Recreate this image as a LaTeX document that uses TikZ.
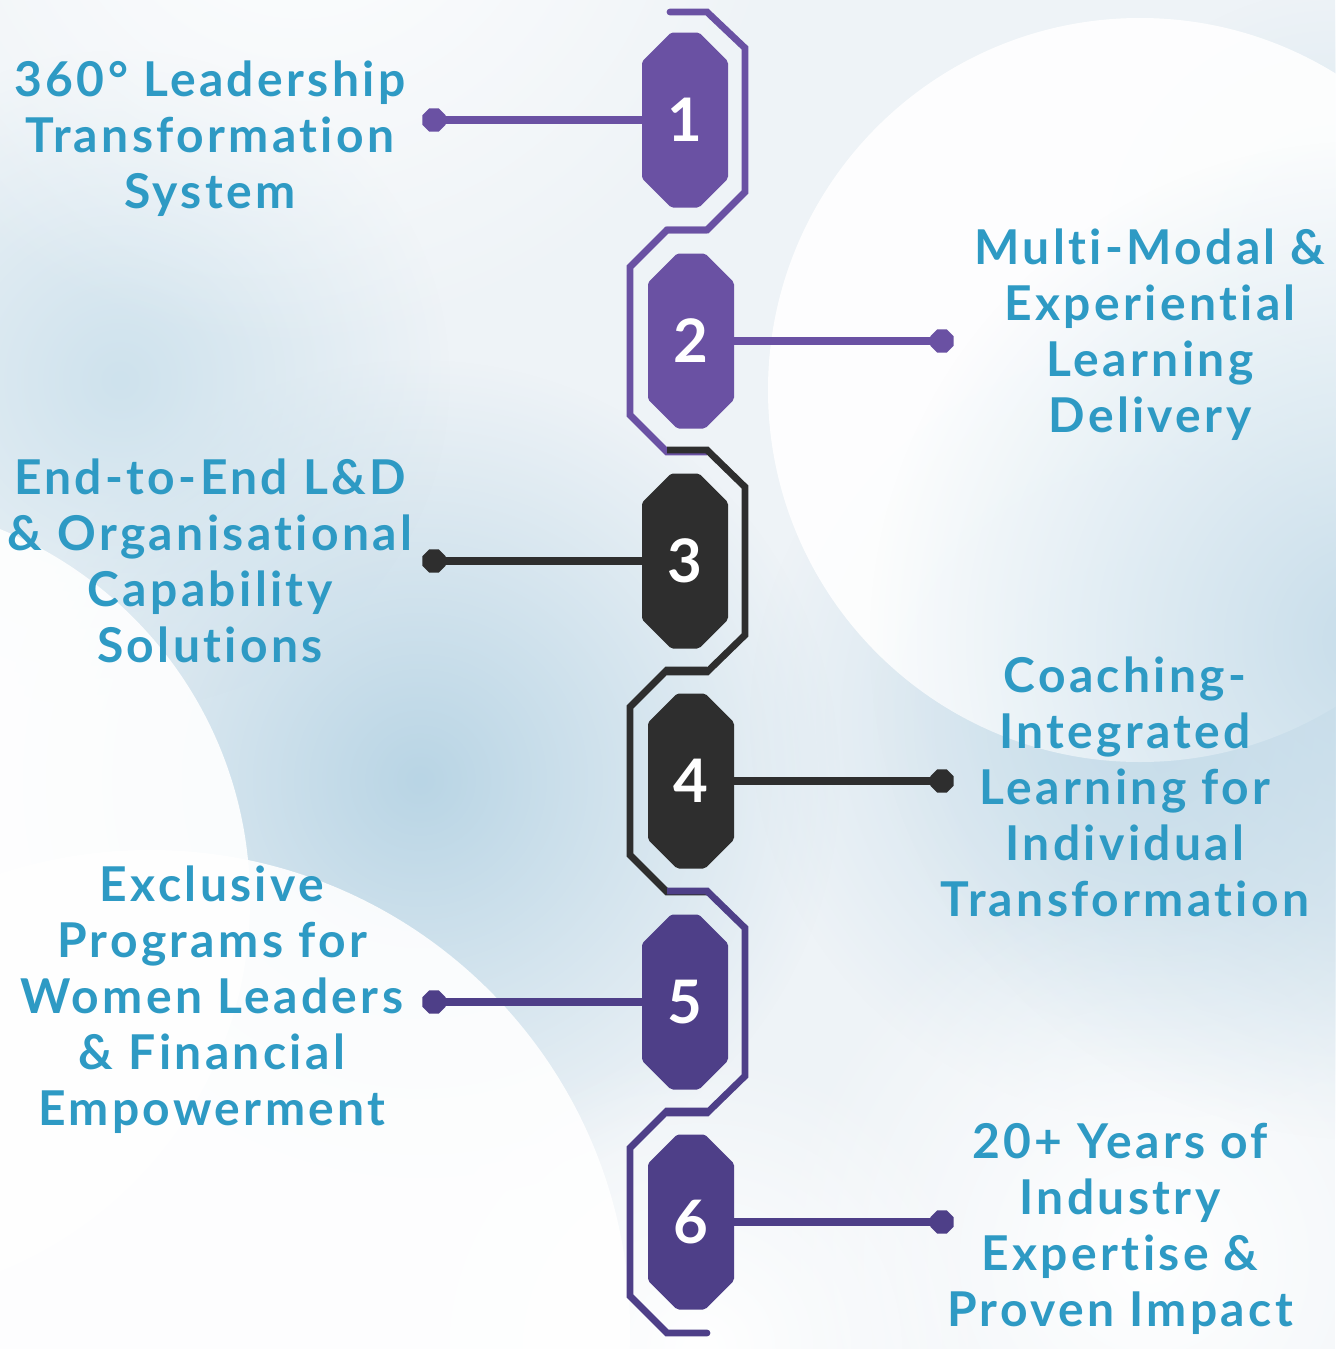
\documentclass[tikz,border=0pt]{standalone}
\usepackage{fontspec}
\setmainfont{Lato}
\newfontfamily\labelfont{Lato}[LetterSpace=7.0,Ligatures={NoCommon,NoContextual,NoRequired}]
\usetikzlibrary{shapes.geometric,fadings}
\definecolor{violetA}{HTML}{6A51A3}
\definecolor{violetB}{HTML}{4E3F88}
\definecolor{coal}{HTML}{2E2E2E}
\definecolor{labelblue}{HTML}{2E9AC4}
\definecolor{haze}{HTML}{B9D5E5}
\definecolor{paper}{HTML}{EEF3F7}
\tikzfading[name=soft blob, inner color=transparent!0, outer color=transparent!100]

\begin{document}
\begin{tikzpicture}[x=0.5pt,y=-0.5pt,line join=miter,
  num node/.style={rectangle,minimum width=43pt,minimum height=87.5pt,inner sep=0pt,text=white,font=\fontsize{30}{30}\selectfont\bfseries,
    path picture={\fill[#1,rounded corners=1pt] ([xshift=14.5pt]path picture bounding box.north west) -- ([xshift=-14.5pt]path picture bounding box.north east) -- ([yshift=-14.5pt]path picture bounding box.north east) -- ([yshift=14.5pt]path picture bounding box.south east) -- ([xshift=-14.5pt]path picture bounding box.south east) -- ([xshift=14.5pt]path picture bounding box.south west) -- ([yshift=14.5pt]path picture bounding box.south west) -- ([yshift=-14.5pt]path picture bounding box.north west) -- cycle;}},
  dot node/.style={regular polygon,regular polygon sides=8,fill=#1,minimum size=12.5pt,inner sep=0pt},
  link/.style={draw=#1,line width=3.6pt},
  frame/.style={draw=#1,line width=3.4pt},
  label text/.style={align=center,text=labelblue,font=\labelfont\bfseries\fontsize{24}{28}\selectfont}]

  \useasboundingbox (0,0) rectangle (1335,1349);
  \fill[paper] (0,0) rectangle (1335,1349);
  \fill[haze, path fading=soft blob] (420,780) circle (420);
  \fill[haze!70, path fading=soft blob] (120,380) circle (330);
  \fill[haze!80, path fading=soft blob] (1150,720) circle (400);
  \fill[haze!60, path fading=soft blob] (1335,250) circle (260);
  \fill[white, path fading=soft blob] (300,-150) circle (500);
  \fill[white, path fading=soft blob] (1150,1260) circle (380);
  \fill[white, path fading=soft blob] (700,1349) circle (300);
  \fill[white, opacity=.9] (1140,390) circle (372);
  \fill[haze!80, path fading=soft blob] (1370,640) circle (500);
  \fill[white, opacity=.9] (-150,900) circle (400);
  \fill[white, opacity=.9] (150,1330) circle (480);

  \node[num node=violetA] (1) at (685,120) {1};
  \node[num node=violetA] (2) at (691,341) {2};
  \node[num node=coal] (3) at (685,561) {3};
  \node[num node=coal] (4) at (691,781) {4};
  \node[num node=violetB] (5) at (685,1002) {5};
  \node[num node=violetB] (6) at (691,1222) {6};

  \draw[frame=violetA,line cap=round] (670,12) -- (707,12) -- (745,48) -- (745,192) -- (707,230) -- (667,230);
  \draw[frame=violetA] ([shift={(16,-111)}]2.center) -- ++(-40,0) -- ++(-37,37) -- ++(0,148) -- ++(37,37) -- ++(40,0);
  \draw[frame=coal] ([shift={(-18,-111)}]3.center) -- ++(40,0) -- ++(38,37) -- ++(0,148) -- ++(-38,37) -- ++(-40,0);
  \draw[frame=coal] ([shift={(16,-111)}]4.center) -- ++(-40,0) -- ++(-37,37) -- ++(0,148) -- ++(37,37) -- ++(40,0);
  \draw[frame=violetB] ([shift={(-18,-111)}]5.center) -- ++(40,0) -- ++(38,37) -- ++(0,148) -- ++(-38,37) -- ++(-40,0);
  \draw[frame=violetB,line cap=round] ([shift={(16,-111)}]6.center) -- ++(-40,0) -- ++(-37,37) -- ++(0,148) -- ++(37,37) -- ++(40,0);

  \node[dot node=violetA] (d1) at (434,120) {};
  \node[dot node=violetA] (d2) at (942,341) {};
  \node[dot node=coal] (d3) at (434,561) {};
  \node[dot node=coal] (d4) at (942,781) {};
  \node[dot node=violetB] (d5) at (434,1002) {};
  \node[dot node=violetB] (d6) at (942,1222) {};

  \draw[link=violetA] (d1.center) -- (1.west);
  \draw[link=violetA] (2.east) -- (d2.center);
  \draw[link=coal] (d3.center) -- (3.west);
  \draw[link=coal] (4.east) -- (d4.center);
  \draw[link=violetB] (d5.center) -- (5.west);
  \draw[link=violetB] (6.east) -- (d6.center);

  \node[label text] (t1) at (210,139) {360° Leadership\\Transformation\\System};
  \node[label text] (t2) at (1150,335) {Multi-Modal \&\\Experiential\\Learning\\Delivery};
  \node[label text] (t3) at (210,561) {End-to-End L\&D\\\& Organisational\\Capability\\Solutions};
  \node[label text] (t4) at (1125,787) {Coaching-\\Integrated\\Learning for\\Individual\\Transformation};
  \node[label text] (t5) at (212,1000) {Exclusive\\Programs for\\Women Leaders\\\& Financial\\Empowerment};
  \node[label text] (t6) at (1120,1229) {20+ Years of\\Industry\\Expertise \&\\Proven Impact};
\end{tikzpicture}
\end{document}
